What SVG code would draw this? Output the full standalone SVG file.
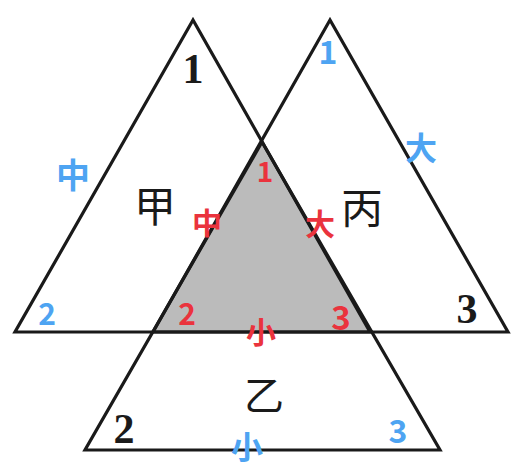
<svg xmlns="http://www.w3.org/2000/svg" width="529" height="470" viewBox="0 0 529 470">
<style>
.tri{fill:none;stroke:#1a1a1a;stroke-width:3.2;stroke-linejoin:miter}
.num{font-family:"Liberation Serif",serif;font-weight:bold;fill:#1a1a1a;text-anchor:middle}
.cjk{font-family:"Noto Sans CJK SC",sans-serif;fill:#1a1a1a;text-anchor:middle}
.hb{font-family:"Noto Sans CJK SC",sans-serif;font-weight:bold;fill:#4ea4f2;text-anchor:middle}
.hr{font-family:"Noto Sans CJK SC",sans-serif;font-weight:bold;fill:#ea333d;text-anchor:middle}
</style>
<rect width="529" height="470" fill="#ffffff"/>
<g id="shaded">
<polygon points="262,142 153,332 370,332" fill="#bbbbbb"/>
</g>
<g id="tri-jia">
<polygon class="tri" points="193,20 15,332 370,332"/>
<text class="num" x="193" y="83" font-size="42">1</text>
<text class="cjk" x="155" y="222" font-size="42">甲</text>
<text class="hb" x="73" y="188" font-size="34">中</text>
<text class="hb" x="47" y="325" font-size="30">2</text>
</g>
<g id="tri-bing">
<polygon class="tri" points="330,20 153,332 508,332"/>
<text class="cjk" x="362" y="224" font-size="42">丙</text>
<text class="num" x="467" y="323" font-size="42">3</text>
<text class="hb" x="328" y="64" font-size="32">1</text>
<text class="hb" x="421" y="160" font-size="32">大</text>
</g>
<g id="tri-yi">
<polygon class="tri" points="262,142 85,450 440,450"/>
<text class="cjk" x="264" y="410" font-size="40">乙</text>
<text class="num" x="124" y="443" font-size="42">2</text>
<text class="hb" x="398" y="443" font-size="32">3</text>
<text class="hb" x="247" y="459" font-size="32">小</text>
</g>
<g id="labels-shared">
<text class="hr" x="265" y="182" font-size="28">1</text>
<text class="hr" x="207" y="234" font-size="30">中</text>
<text class="hr" x="320" y="235" font-size="30">大</text>
<text class="hr" x="187" y="325" font-size="30">2</text>
<text class="hr" x="341" y="330" font-size="33">3</text>
<text class="hr" x="261" y="343" font-size="30">小</text>
</g>
<g id="connectors"></g>
</svg>
